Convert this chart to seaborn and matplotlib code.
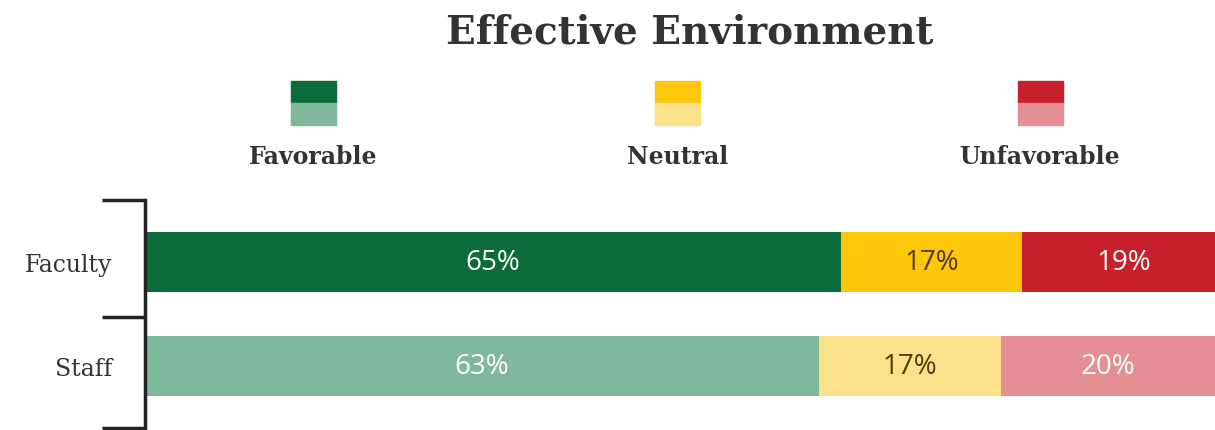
import pandas as pd
import numpy as np
import matplotlib.pyplot as plt
import seaborn as sns
from matplotlib.patches import Rectangle

groups = ["Faculty", "Staff"]
favorable = [65, 63]
neutral = [17, 17]
unfavorable = [19, 20]

categories = ["Favorable", "Neutral", "Unfavorable"]
dark_colors = {"Favorable": "#0b6b3a", "Neutral": "#fcc70a", "Unfavorable": "#c8202a"}
light_colors = {"Favorable": "#7fb89b", "Neutral": "#fde08a", "Unfavorable": "#e38f94"}
text_colors = {"Favorable": "white", "Neutral": "#4d3b05", "Unfavorable": "white"}

df = pd.DataFrame({
    "group": groups,
    "Favorable": favorable,
    "Neutral": neutral,
    "Unfavorable": unfavorable,
})
df["cum_fav"] = df["Favorable"]
df["cum_neu"] = df["Favorable"] + df["Neutral"]
df["cum_unf"] = df["cum_neu"] + df["Unfavorable"]

sns.set_style("white")
serif = ["DejaVu Serif"]
sans = ["Open Sans", "DejaVu Sans"]

fig = plt.figure(figsize=(12.15, 4.31), dpi=100)
ax = fig.add_axes([0.1195, 0.004, 0.8805, 0.5305])

# stacked bars drawn back to front from cumulative totals
for cum, cat in [("cum_unf", "Unfavorable"), ("cum_neu", "Neutral"), ("cum_fav", "Favorable")]:
    pal = {"Faculty": dark_colors[cat], "Staff": light_colors[cat]}
    sns.barplot(data=df, x=cum, y="group", hue="group", palette=pal,
                orient="h", width=0.58, dodge=False, legend=False,
                saturation=1, linewidth=0, ax=ax)

# labels in the middle of each segment
for i, row in df.iterrows():
    starts = [0, row["cum_fav"], row["cum_neu"]]
    for s, cat in zip(starts, categories):
        v = row[cat]
        ax.text(s + v / 2, i, f"{v}%", ha="center", va="center",
                fontsize=20, color=text_colors[cat], family=sans)

ax.set_xlim(0, 100)
ax.set_ylim(1.6, -0.6)
ax.set_xlabel("")
ax.set_ylabel("")
ax.set_xticks([])
for sp in ["top", "right", "bottom"]:
    ax.spines[sp].set_visible(False)
ax.spines["left"].set_linewidth(2.5)
ax.spines["left"].set_color("#222222")

ax.set_yticks([0, 1])
ax.set_yticklabels(groups, family=serif, fontsize=17, color="#333333")
ax.tick_params(axis="y", which="major", left=True, length=0, pad=24)
ax.set_yticks([-0.6, 0.53, 1.6], minor=True)
ax.tick_params(axis="y", which="minor", left=True, length=31, width=2.5,
               color="#222222")

fig.text(0.568, 0.925, "Effective Environment", ha="center", va="center",
         fontsize=28, fontweight="bold", family=serif, color="#333333")

# legend: two-tone squares with labels below
leg_x = [0.258, 0.558, 0.856]
sq_w = 45 / 1215
half_h = 22 / 431
for x, cat in zip(leg_x, categories):
    fig.patches.append(Rectangle((x - sq_w / 2, 1 - 104 / 431), sq_w, half_h,
                                 transform=fig.transFigure, color=dark_colors[cat]))
    fig.patches.append(Rectangle((x - sq_w / 2, 1 - 126 / 431), sq_w, half_h,
                                 transform=fig.transFigure, color=light_colors[cat]))
    fig.text(x, 1 - 157 / 431, cat, ha="center", va="center", fontsize=17,
             fontweight="bold", family=serif, color="#333333")

fig.savefig("out.png", dpi=100)
